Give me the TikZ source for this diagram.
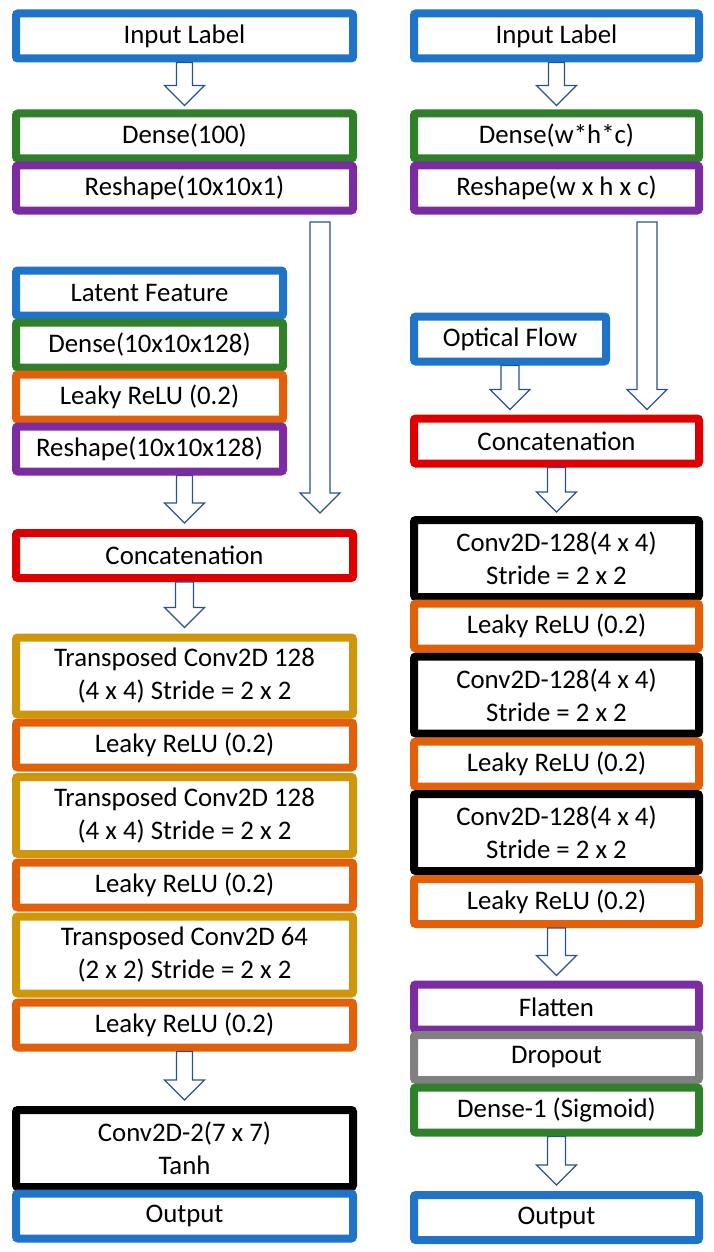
\documentclass[tikz,border=0pt]{standalone}
\usepackage{fontspec}
\setmainfont{Carlito}
\usetikzlibrary{calc}

\definecolor{lblue}{RGB}{31,116,199}
\definecolor{lgreen}{RGB}{47,128,41}
\definecolor{lpurple}{RGB}{123,44,160}
\definecolor{lorange}{RGB}{226,96,10}
\definecolor{lred}{RGB}{222,0,0}
\definecolor{lgold}{RGB}{208,150,10}
\definecolor{lgray}{RGB}{128,128,128}
\definecolor{arrblue}{RGB}{44,82,140}

\tikzset{
  layer/.style={draw=#1, line width=8pt, rounded corners=2pt, fill=white, align=center, inner sep=0pt,
    font=\fontsize{26.8}{33}\selectfont},
  wide/.style={minimum width=337pt},
  narrow/.style={minimum width=285pt},
  one/.style={minimum height=45pt},
  two/.style={minimum height=77pt},
  arrowline/.style={draw=arrblue, line width=1.2pt, fill=white, line join=miter}
}

% hollow block arrow: shaft half width, from, to
\newcommand{\fatarrow}[3]{%
  \draw[arrowline] let \p1=#2, \p2=#3 in
    (\x1-#1pt,\y1) -- (\x1+#1pt,\y1) -- (\x1+#1pt,\y2+20pt) -- (\x1+20pt,\y2+20pt)
    -- (\x1,\y2) -- (\x1-20pt,\y2+20pt) -- (\x1-#1pt,\y2+20pt) -- cycle;}

\begin{document}
\begin{tikzpicture}[x=1pt,y=-1pt]
\useasboundingbox (0,0) rectangle (714,1252);

% generator
\node[layer=lblue,wide,one] (inl) at (184.5,36) {Input Label};
\node[layer=lgreen,wide,one] (den) at (184.5,136) {Dense(100)};
\node[layer=lpurple,wide,one] (res) at (184.5,188) {Reshape(10x10x1)};
\node[layer=lblue,one,minimum width=267pt] (lat) at (149.5,293) {Latent Feature};
\node[layer=lgreen,one,minimum width=267pt] (lden) at (149.5,345) {Dense(10x10x128)};
\node[layer=lorange,one,minimum width=267pt] (lrel) at (149.5,397) {Leaky ReLU (0.2)};
\node[layer=lpurple,one,minimum width=267pt] (lres) at (149.5,449) {Reshape(10x10x128)};
\node[layer=lred,wide,one] (cat) at (184.5,555.5) {Concatenation};
\node[layer=lgold,wide,two] (tc1) at (184.5,676) {Transposed Conv2D 128\\(4 x 4) Stride = 2 x 2};
\node[layer=lorange,wide,one] (rl1) at (184.5,745) {Leaky ReLU (0.2)};
\node[layer=lgold,wide,two] (tc2) at (184.5,815.5) {Transposed Conv2D 128\\(4 x 4) Stride = 2 x 2};
\node[layer=lorange,wide,one] (rl2) at (184.5,885) {Leaky ReLU (0.2)};
\node[layer=lgold,wide,two] (tc3) at (184.5,955) {Transposed Conv2D 64\\(2 x 2) Stride = 2 x 2};
\node[layer=lorange,wide,one] (rl3) at (184.5,1025) {Leaky ReLU (0.2)};
\node[layer=black,wide,two] (cv) at (184.5,1148.5) {Conv2D-2(7 x 7)\\Tanh};
\node[layer=lblue,wide,one] (out) at (184.5,1216) {Output};

% discriminator
\node[layer=lblue,narrow,one] (dinl) at (556.5,36) {Input Label};
\node[layer=lgreen,narrow,one] (dden) at (556.5,136) {Dense(w*h*c)};
\node[layer=lpurple,narrow,one] (dres) at (556.5,188) {Reshape(w x h x c)};
\node[layer=lblue,one,minimum width=192pt] (opt) at (510,339) {Optical Flow};
\node[layer=lred,narrow,one] (dcat) at (556.5,441) {Concatenation};
\node[layer=black,narrow,two] (dc1) at (556.5,558.5) {Conv2D-128(4 x 4)\\Stride = 2 x 2};
\node[layer=lorange,narrow,one] (dl1) at (556.5,626) {Leaky ReLU (0.2)};
\node[layer=black,narrow,two] (dc2) at (556.5,695) {Conv2D-128(4 x 4)\\Stride = 2 x 2};
\node[layer=lorange,narrow,one] (dl2) at (556.5,764) {Leaky ReLU (0.2)};
\node[layer=black,narrow,two] (dc3) at (556.5,832.5) {Conv2D-128(4 x 4)\\Stride = 2 x 2};
\node[layer=lorange,narrow,one] (dl3) at (556.5,901.5) {Leaky ReLU (0.2)};
\node[layer=lpurple,narrow,one] (flat) at (556.5,1007) {Flatten};
\node[layer=lgray,narrow,one] (drop) at (556.5,1057.5) {Dropout};
\node[layer=lgreen,narrow,one] (dsig) at (556.5,1110) {Dense-1 (Sigmoid)};
\node[layer=lblue,narrow,one] (dout) at (556.5,1217.5) {Output};

\coordinate (lfeed) at (320,222);
\coordinate (rfeed) at (647,222);

% arrows
\fatarrow{8}{(inl.south)}{($(den.north)+(0,-4)$)}
\fatarrow{8}{(lres.south -| cat.north)}{($(cat.north)+(0,-6)$)}
\fatarrow{10}{(lfeed)}{($(lfeed|-cat.north)+(0,-16)$)}
\fatarrow{9}{(cat.south)}{($(tc1.north)+(0,-6)$)}
\fatarrow{8}{(rl3.south)}{($(cv.north)+(0,-6)$)}
\fatarrow{8}{(dinl.south)}{($(dden.north)+(0,-4)$)}
\fatarrow{10}{(rfeed)}{($(rfeed|-dcat.north)+(0,-5)$)}
\fatarrow{9}{(opt.south)}{($(dcat.north)+(0,-5)$)}
\fatarrow{9}{(dcat.south)}{($(dc1.north)+(0,-4)$)}
\fatarrow{9}{(dl3.south)}{($(flat.north)+(0,-5)$)}
\fatarrow{9}{(dsig.south)}{($(dout.north)+(0,-6)$)}

\end{tikzpicture}
\end{document}
